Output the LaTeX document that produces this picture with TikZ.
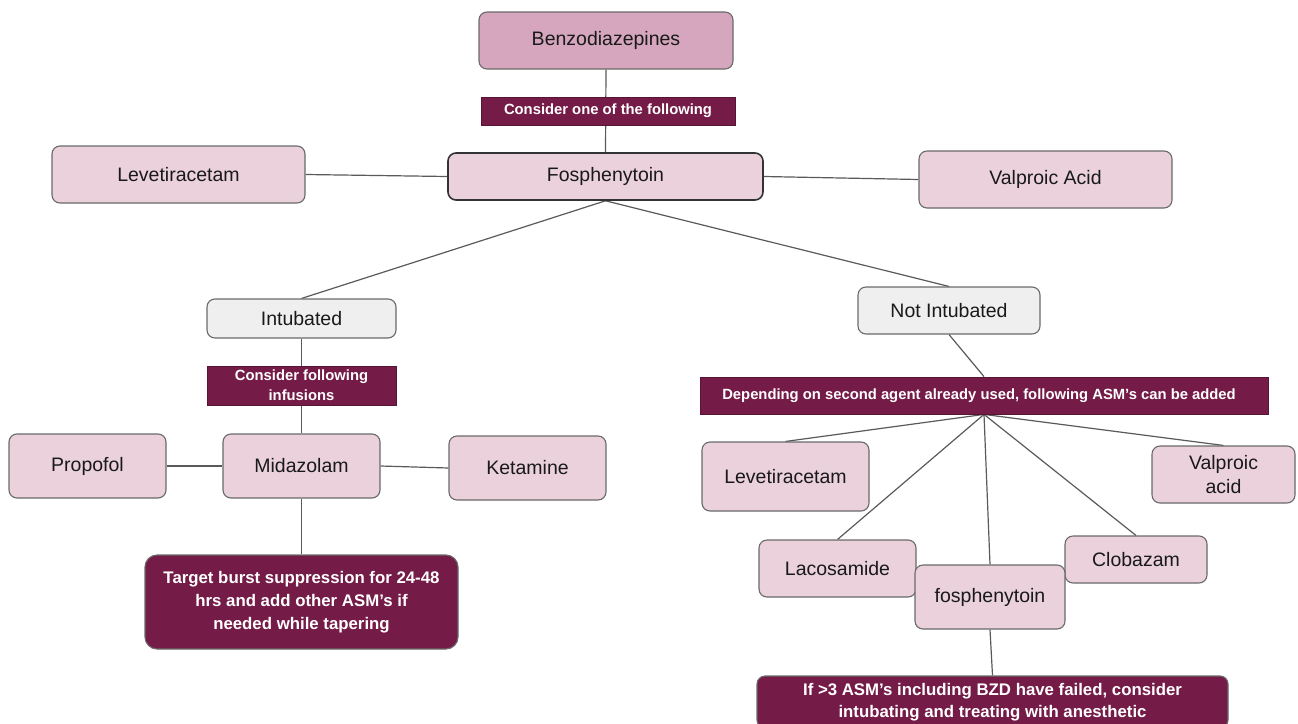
\documentclass[tikz,border=0pt]{standalone}
\usepackage{fontspec}
\setmainfont{Liberation Sans}
\usetikzlibrary{backgrounds}
\definecolor{darkmag}{HTML}{741B47}
\definecolor{pinkL}{HTML}{EAD1DC}
\definecolor{pinkM}{HTML}{D5A6BD}
\definecolor{grayL}{HTML}{EFEFEF}
\definecolor{boxborder}{HTML}{6A6A6A}
\definecolor{linecol}{HTML}{5A5A5A}
\begin{document}
\begin{tikzpicture}[x=1pt,y=-1pt,
  dims/.style 2 args={minimum width=#1pt, minimum height=#2pt},
  box/.style={draw=boxborder, line width=1.1pt, fill=pinkL, rounded corners=8pt,
    inner sep=0pt, align=center, text=black!90, font=\fontsize{19.5}{24}\selectfont},
  graybox/.style={box, fill=grayL},
  banner/.style={fill=darkmag, draw=darkmag!75!black, line width=0.8pt, text=white,
    inner sep=0pt, align=center, font=\bfseries\fontsize{14.8}{20}\selectfont},
  bigbanner/.style={banner, draw=boxborder, line width=1.1pt, rounded corners=10pt,
    font=\bfseries\fontsize{16.8}{23}\selectfont},
  conn/.style={draw=linecol, line width=1.2pt}
]
\useasboundingbox (0,0) rectangle (1298,723);

% top
\node[box, fill=pinkM, dims={254}{57}] (benzo) at (606,40.5) {Benzodiazepines};
\node[banner, dims={254}{28}] (cons1) at (608,111) {Consider one of the following};
\node[box, draw=black!80, line width=1.6pt, dims={315}{47}] (fos) at (605.5,176.5) {Fosphenytoin};
\node[box, dims={253}{57}] (lev1) at (178.5,174.5) {Levetiracetam};
\node[box, dims={253}{57}] (val1) at (1045.5,179.5) {Valproic Acid};

% left branch
\node[graybox, dims={189}{39}] (intub) at (301.5,318.5) {Intubated};
\node[banner, dims={189}{39}] (cons2) at (301.5,385.5) {Consider following\\infusions};
\node[box, dims={157}{64}] (prop) at (87.5,466) {Propofol};
\node[box, dims={157}{64}] (mid) at (301.5,466) {Midazolam};
\node[box, dims={157}{64}] (ket) at (527.5,468) {Ketamine};
\node[bigbanner, rounded corners=12pt, dims={313}{94}] (target) at (301.5,602)
  {Target burst suppression for 24-48\\hrs and add other ASM’s if\\needed while tapering};

% right branch
\node[graybox, dims={182}{47}] (notint) at (949,310.5) {Not Intubated};
\node[banner, dims={568}{37}] (cons3) at (984,395.5)
  {Depending on second agent already used, following ASM’s can be added\hspace*{10pt}};
\node[box, dims={167}{69}] (lev2) at (785.5,476.5) {Levetiracetam};
\node[box, dims={143}{57}] (val2) at (1223.5,474.5) {Valproic\\acid};
\node[box, dims={157}{57}] (laco) at (837.5,568.5) {Lacosamide};
\node[box, dims={142}{47}] (clob) at (1136,559.5) {Clobazam};
\node[box, dims={150}{64}] (fos2) at (990,597) {fosphenytoin};
\node[bigbanner, rounded corners=8pt, dims={471}{52}, font=\bfseries\fontsize{16.8}{22}\selectfont] (last) at (992.5,702)
  {If >3 ASM’s including BZD have failed, consider\\intubating and treating with anesthetic};

\begin{scope}[on background layer]
\fill[white] (0,0) rectangle (1298,723);
\draw[conn] (benzo.south) -- (fos.north);
\draw[conn] (lev1.east) -- (fos.west);
\draw[conn] (fos.east) -- (val1.west);
\draw[conn] (fos.south) -- (intub.north);
\draw[conn] (fos.south) -- (notint.north);
\draw[conn] (intub.south) -- (mid.north);
\draw[conn] (prop.east) -- (mid.west);
\draw[conn] (mid.east) -- (ket.west);
\draw[conn] (mid.south) -- (target.north);
\draw[conn] (notint.south) -- (cons3.north);
\draw[conn] (cons3.south) -- (lev2.north);
\draw[conn] (cons3.south) -- (val2.north);
\draw[conn] (cons3.south) -- (laco.north);
\draw[conn] (cons3.south) -- (clob.north);
\draw[conn] (cons3.south) -- (fos2.north);
\draw[conn] (fos2.south) -- (last.north);
\end{scope}
\end{tikzpicture}
\end{document}
